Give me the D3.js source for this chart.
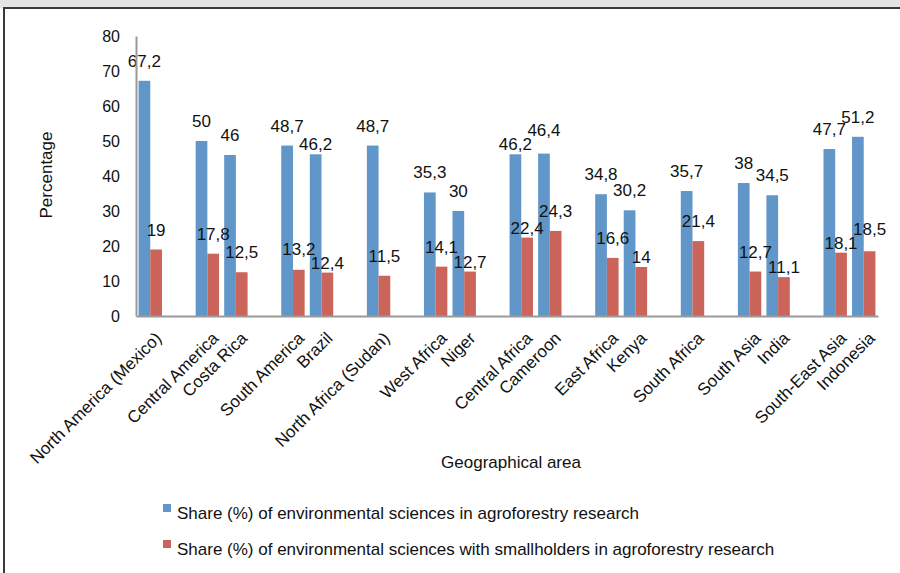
<!DOCTYPE html>
<html>
<head>
<meta charset="utf-8">
<script src="https://cdn.jsdelivr.net/npm/d3@7"></script>
<style>
  html, body { margin: 0; padding: 0; background: #ffffff; }
  svg { display: block; }
  text { font-family: "Liberation Sans", Arial, sans-serif; fill: #111111; }
</style>
</head>
<body>
<svg id="chart" width="900" height="573"></svg>
<script>
// ---- data ----
const categories = ["North America (Mexico)", "", "Central America", "Costa Rica", "", "South America", "Brazil", "", "North Africa (Sudan)", "", "West Africa", "Niger", "", "Central Africa", "Cameroon", "", "East Africa", "Kenya", "", "South Africa", "", "South Asia", "India", "", "South-East Asia", "Indonesia"];
const shareEnv = [67.2, null, 50, 46, null, 48.7, 46.2, null, 48.7, null, 35.3, 30, null, 46.2, 46.4, null, 34.8, 30.2, null, 35.7, null, 38, 34.5, null, 47.7, 51.2];
const shareSmallholders = [19, null, 17.8, 12.5, null, 13.2, 12.4, null, 11.5, null, 14.1, 12.7, null, 22.4, 24.3, null, 16.6, 14, null, 21.4, null, 12.7, 11.1, null, 18.1, 18.5];
const seriesNames = ["Share (%) of environmental sciences in agroforestry research", "Share (%) of environmental sciences with smallholders in agroforestry research"];
const yTicks = [0, 10, 20, 30, 40, 50, 60, 70, 80];
const yTitle = "Percentage";
const xTitle = "Geographical area";

const colors = ["#6096c8", "#cb645a"];
const series = [shareEnv, shareSmallholders];

const svg = d3.select("#chart");

// frame
svg.append("rect").attr("x", 0).attr("y", 0).attr("width", 900).attr("height", 8).attr("fill", "#e3e4e3");
svg.append("rect").attr("x", 4).attr("y", 8).attr("width", 920).attr("height", 600)
  .attr("fill", "none").attr("stroke", "#3a3a3a").attr("stroke-width", 2);

const plot = { left: 136, right: 878, top: 36, bottom: 316 };

const x = d3.scaleBand().domain(d3.range(categories.length)).range([plot.left, plot.right]).paddingInner(0).paddingOuter(0);
const x1 = d3.scaleBand().domain([0, 1]).range([0, x.bandwidth()]).paddingInner(0).paddingOuter(0.22);
const y = d3.scaleLinear().domain([0, 80]).range([plot.bottom, plot.top]);

// bars
series.forEach((vals, si) => {
  const data = vals.map((v, i) => ({ i, v })).filter(d => d.v != null);
  svg.append("g").selectAll("rect").data(data).join("rect")
    .attr("x", d => x(d.i) + x1(si))
    .attr("y", d => y(d.v))
    .attr("width", x1.bandwidth())
    .attr("height", d => y(0) - y(d.v))
    .attr("fill", colors[si]);
});

// data labels with simple collision avoidance between adjacent bars of a series
const GAP = 14, GAP_LOW = 4, H = 12, CLEAR = 2;
series.forEach((vals, si) => {
  const data = vals.map((v, i) => ({ i, v, base: v == null ? 0 : y(v) - GAP })).filter(d => d.v != null);
  for (let k = 1; k < data.length; k++) {
    const a = data[k - 1], b = data[k];
    if (b.i !== a.i + 1) continue;
    const overlap = Math.min(a.base, b.base) - (Math.max(a.base, b.base) - H);
    if (overlap > 2) {
      const lower = a.v <= b.v ? a : b;
      const higher = lower === a ? b : a;
      lower.base = y(lower.v) - GAP_LOW;
      const lowerTop = lower.base - H;
      if (higher.base > lowerTop - CLEAR) higher.base = lowerTop - CLEAR;
    }
  }
  svg.append("g").selectAll("text").data(data).join("text")
    .attr("x", d => x(d.i) + x1(si) + x1.bandwidth() / 2)
    .attr("y", d => d.base)
    .attr("text-anchor", "middle")
    .attr("font-size", 17)
    .text(d => String(d.v).replace(".", ","));
});

// y axis
const yAxis = svg.append("g").attr("transform", `translate(${plot.left},0)`)
  .call(d3.axisLeft(y).tickValues(yTicks).tickSize(0).tickPadding(16).tickFormat(d => String(d)));
yAxis.select(".domain").attr("stroke", "#9a9a9a").attr("stroke-width", 2);
yAxis.selectAll("text").attr("font-size", 16).attr("font-family", "Liberation Sans, Arial, sans-serif").attr("fill", "#111111");

// x axis
const xAxis = svg.append("g").attr("transform", `translate(0,${plot.bottom})`)
  .call(d3.axisBottom(x).tickSize(0).tickFormat(i => categories[i]));
xAxis.select(".domain").attr("stroke", "#9a9a9a").attr("stroke-width", 2);
xAxis.selectAll(".tick text")
  .attr("font-size", 17).attr("font-family", "Liberation Sans, Arial, sans-serif").attr("fill", "#111111")
  .attr("text-anchor", "end")
  .attr("y", 0).attr("dy", "0.35em")
  .attr("transform", "translate(8,19) rotate(-45)");

// axis titles
svg.append("text").attr("transform", "translate(52,175) rotate(-90)")
  .attr("text-anchor", "middle").attr("font-size", 17).text(yTitle);
svg.append("text").attr("x", 511).attr("y", 468)
  .attr("text-anchor", "middle").attr("font-size", 17).text(xTitle);

// legend
const legend = svg.append("g");
seriesNames.forEach((name, si) => {
  const cy = 508 + si * 36;
  legend.append("rect").attr("x", 163).attr("y", cy - 4).attr("width", 8).attr("height", 8).attr("fill", colors[si]);
  legend.append("text").attr("x", 177).attr("y", cy + 11).attr("font-size", 17).text(name);
});
</script>
</body>
</html>
